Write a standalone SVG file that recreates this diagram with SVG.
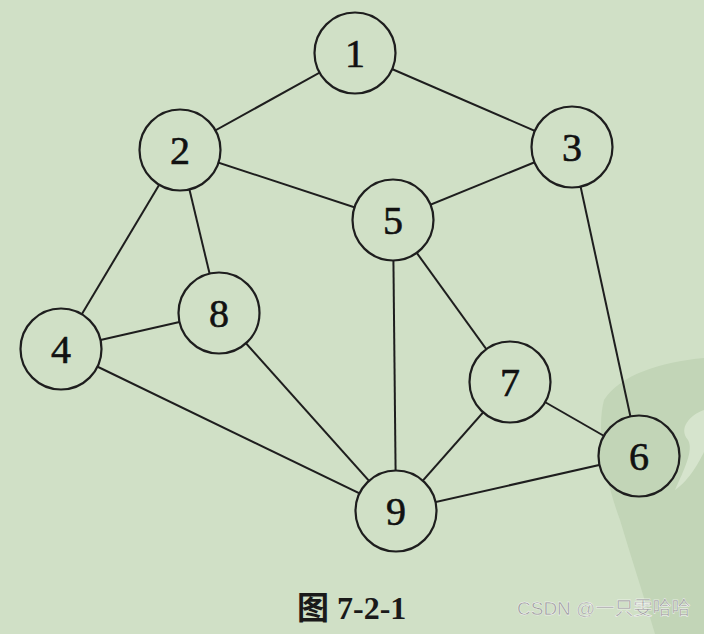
<svg xmlns="http://www.w3.org/2000/svg" width="704" height="634" viewBox="0 0 704 634">
<style>
.e{stroke:#1e1e1e;stroke-width:2}
.n circle{fill:#d0e0c6;stroke:#1e1e1e;stroke-width:2.2}
.n text{font-family:"Liberation Serif","DejaVu Serif",serif;font-size:40px;fill:#111;text-anchor:middle;stroke:#111;stroke-width:0.6}
</style>
<rect width="704" height="634" fill="#d0e0c6"/>
<path d="M704 358 C660 362 620 375 604 400 C596 430 605 480 620 520 C632 560 645 600 655 634 L704 634 Z" fill="#c2d5b7"/>
<path d="M704 410 C690 415 678 428 688 440 C694 450 684 470 675 490 C690 480 700 460 704 452 Z" fill="#d6e4cd"/>
<g id="edges">
<line class="e" x1="355" y1="53" x2="180" y2="150"/>
<line class="e" x1="355" y1="53" x2="572" y2="147"/>
<line class="e" x1="180" y1="150" x2="393" y2="220"/>
<line class="e" x1="572" y1="147" x2="393" y2="220"/>
<line class="e" x1="180" y1="150" x2="61" y2="349"/>
<line class="e" x1="180" y1="150" x2="219" y2="313"/>
<line class="e" x1="61" y1="349" x2="219" y2="313"/>
<line class="e" x1="61" y1="349" x2="396" y2="511"/>
<line class="e" x1="219" y1="313" x2="396" y2="511"/>
<line class="e" x1="393" y1="220" x2="396" y2="511"/>
<line class="e" x1="393" y1="220" x2="510" y2="382"/>
<line class="e" x1="510" y1="382" x2="396" y2="511"/>
<line class="e" x1="510" y1="382" x2="639" y2="456"/>
<line class="e" x1="572" y1="147" x2="639" y2="456"/>
<line class="e" x1="396" y1="511" x2="639" y2="456"/>
</g>
<g id="n1" class="n"><circle cx="355" cy="53" r="40.5"/><text x="355" y="67">1</text></g>
<g id="n2" class="n"><circle cx="180" cy="150" r="40.5"/><text x="180" y="164">2</text></g>
<g id="n3" class="n"><circle cx="572" cy="147" r="40.5"/><text x="572" y="161">3</text></g>
<g id="n5" class="n"><circle cx="393" cy="220" r="40.5"/><text x="393" y="234">5</text></g>
<g id="n8" class="n"><circle cx="219" cy="313" r="40.5"/><text x="219" y="327">8</text></g>
<g id="n4" class="n"><circle cx="61" cy="349" r="40.5"/><text x="61" y="363">4</text></g>
<g id="n7" class="n"><circle cx="510" cy="382" r="40.5"/><text x="510" y="396">7</text></g>
<g id="n6" class="n"><circle cx="639" cy="456" r="40.5" style="fill:#c2d5b7"/><text x="639" y="470">6</text></g>
<g id="n9" class="n"><circle cx="396" cy="511" r="40.5"/><text x="396" y="525">9</text></g>
<text x="297" y="619" font-family="'Liberation Serif','Noto Sans CJK SC',serif" font-size="32" font-weight="bold" fill="#1a1a1a">图 7-2-1</text>
<text x="517" y="615" font-family="'Liberation Sans','Noto Sans CJK SC',sans-serif" font-size="19" fill="#9a9a9a" stroke="#ffffff" stroke-width="0.4">CSDN @一只雯哈哈</text>
</svg>
